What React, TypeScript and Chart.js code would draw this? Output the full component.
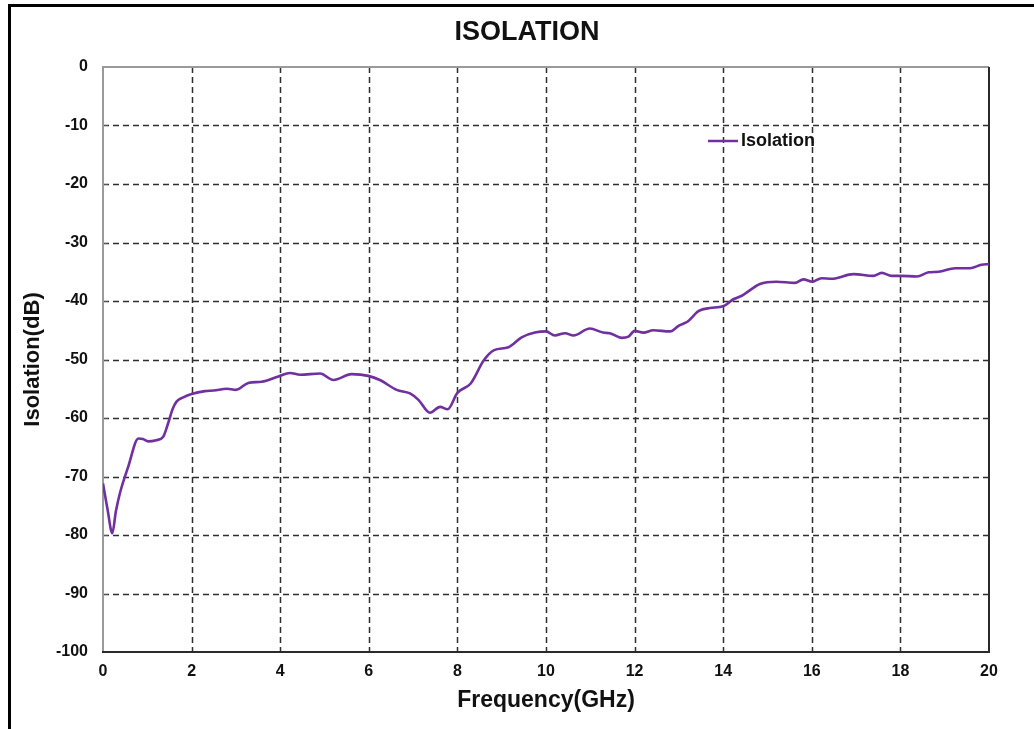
import React, { useEffect, useRef } from "react";
import { Chart, registerables } from "chart.js";

Chart.register(...registerables);

const freqGHz: number[] = [
  0, 0.1, 0.21, 0.29, 0.38, 0.57, 0.8, 0.9, 1.02, 1.2, 1.36, 1.47, 1.57, 1.66, 1.8, 2.0,
  2.3, 2.5, 2.8, 3.0, 3.28, 3.58, 3.96, 4.22, 4.45, 4.9, 5.2, 5.61, 5.99, 6.25, 6.63,
  6.93, 7.12, 7.38, 7.61, 7.78, 8.0, 8.3, 8.6, 8.83, 9.15, 9.45, 9.75, 10.0, 10.2,
  10.43, 10.62, 10.99, 11.29, 11.44, 11.71, 11.86, 12.0, 12.2, 12.42, 12.8, 13.0,
  13.2, 13.45, 13.7, 14.0, 14.23, 14.42, 14.83, 15.2, 15.62, 15.81, 16.01, 16.22,
  16.45, 16.94, 17.39, 17.58, 17.8, 18.0, 18.37, 18.64, 18.86, 19.24, 19.57, 19.83, 20,
];

const isolationDb: number[] = [
  -71.2, -75.5, -79.7, -76.0, -72.9, -68.3, -63.5, -63.6, -64.0, -63.8, -63.2, -60.9,
  -58.5, -57.2, -56.5, -55.9, -55.4, -55.3, -55.0, -55.2, -54.0, -53.8, -52.9, -52.3,
  -52.6, -52.4, -53.5, -52.5, -52.8, -53.5, -55.2, -55.8, -56.9, -59.1, -58.1, -58.5,
  -55.7, -54.1, -50.1, -48.4, -47.9, -46.2, -45.4, -45.2, -45.9, -45.5, -45.9, -44.7,
  -45.4, -45.5, -46.3, -46.1, -45.1, -45.4, -45.0, -45.2, -44.2, -43.5, -41.7, -41.2,
  -40.9, -39.7, -39.1, -37.1, -36.7, -36.9, -36.3, -36.7, -36.1, -36.2, -35.4, -35.7,
  -35.2, -35.7, -35.7, -35.8, -35.1, -35.0, -34.4, -34.4, -33.8, -33.7,
];

const chartTitle = "ISOLATION";
const seriesName = "Isolation";
const xAxisTitle = "Frequency(GHz)";
const yAxisTitle = "Isolation(dB)";
const xTicks = { min: 0, max: 20, step: 2 };
const yTicks = { min: -100, max: 0, step: 10 };

const FONT = '"Liberation Sans", Arial, Helvetica, sans-serif';
const LINE_COLOR = "#7030A0";

const decorPlugin = {
  id: "decor",
  beforeDatasetsDraw(chart: any) {
    const { ctx, chartArea, scales } = chart;
    const { left, right, top, bottom } = chartArea;
    const xs = scales.x;
    const ys = scales.y;
    ctx.save();
    // dashed grid
    ctx.strokeStyle = "#2e2e2e";
    ctx.lineWidth = 1.5;
    ctx.setLineDash([6, 4]);
    for (let v = yTicks.min + yTicks.step; v < yTicks.max; v += yTicks.step) {
      const y = Math.round(ys.getPixelForValue(v)) + 0.5;
      ctx.beginPath();
      ctx.moveTo(left, y);
      ctx.lineTo(right, y);
      ctx.stroke();
    }
    for (let v = xTicks.min + xTicks.step; v < xTicks.max; v += xTicks.step) {
      const x = Math.round(xs.getPixelForValue(v)) + 0.5;
      ctx.beginPath();
      ctx.moveTo(x, top);
      ctx.lineTo(x, bottom);
      ctx.stroke();
    }
    ctx.setLineDash([]);
    // small inward ticks on left axis
    ctx.strokeStyle = "#555";
    ctx.lineWidth = 1;
    for (let v = yTicks.min; v <= yTicks.max; v += yTicks.step) {
      const y = Math.round(ys.getPixelForValue(v)) + 0.5;
      ctx.beginPath();
      ctx.moveTo(left, y);
      ctx.lineTo(left + 5, y);
      ctx.stroke();
    }
    // plot borders
    ctx.lineWidth = 2;
    ctx.strokeStyle = "#9a9a9a";
    ctx.beginPath();
    ctx.moveTo(left, bottom);
    ctx.lineTo(left, top);
    ctx.lineTo(right, top);
    ctx.stroke();
    ctx.strokeStyle = "#2a2a2a";
    ctx.beginPath();
    ctx.moveTo(right, top);
    ctx.lineTo(right, bottom);
    ctx.lineTo(left - 1, bottom);
    ctx.stroke();
    // outer frame (left and top)
    ctx.strokeStyle = "#000";
    ctx.lineWidth = 3;
    ctx.beginPath();
    ctx.moveTo(9.5, chart.height);
    ctx.lineTo(9.5, 5.5);
    ctx.lineTo(chart.width, 5.5);
    ctx.stroke();
    // title
    ctx.fillStyle = "#111";
    ctx.font = `bold 27px ${FONT}`;
    ctx.textAlign = "center";
    ctx.textBaseline = "middle";
    ctx.fillText(chartTitle, 527, 33);
    // legend
    ctx.strokeStyle = LINE_COLOR;
    ctx.lineWidth = 2.5;
    ctx.beginPath();
    ctx.moveTo(708, 141);
    ctx.lineTo(738, 141);
    ctx.stroke();
    ctx.font = `bold 18px ${FONT}`;
    ctx.textAlign = "left";
    ctx.fillText(seriesName, 741, 141);
    ctx.restore();
  },
};

export default function App() {
  const ref = useRef<HTMLCanvasElement | null>(null);
  useEffect(() => {
    if (!ref.current) return;
    const chart = new Chart(ref.current, {
      type: "line",
      data: {
        datasets: [
          {
            label: seriesName,
            data: freqGHz.map((f, i) => ({ x: f, y: isolationDb[i] })),
            borderColor: LINE_COLOR,
            backgroundColor: LINE_COLOR,
            borderWidth: 2.6,
            pointRadius: 0,
            cubicInterpolationMode: "monotone",
            fill: false,
          },
        ],
      },
      options: {
        animation: false,
        responsive: false,
        maintainAspectRatio: false,
        layout: { padding: { top: 67, right: 45, left: 0, bottom: 0 } },
        plugins: {
          legend: { display: false },
          title: { display: false },
          tooltip: { enabled: false },
        },
        scales: {
          x: {
            type: "linear",
            min: xTicks.min,
            max: xTicks.max,
            grid: { display: false, drawTicks: false, tickLength: 0 },
            border: { display: false },
            ticks: {
              stepSize: xTicks.step,
              padding: 10,
              color: "#111",
              font: { family: FONT, size: 16, weight: "bold" },
              maxRotation: 0,
            },
            title: {
              display: true,
              text: xAxisTitle,
              color: "#111",
              font: { family: FONT, size: 23, weight: "bold" },
              padding: { top: 0, bottom: 15 },
            },
            afterFit(scale: any) {
              scale.height = 77;
            },
          },
          y: {
            type: "linear",
            min: yTicks.min,
            max: yTicks.max,
            grid: { display: false, drawTicks: false, tickLength: 0 },
            border: { display: false },
            ticks: {
              stepSize: yTicks.step,
              padding: 15,
              color: "#111",
              font: { family: FONT, size: 16, weight: "bold" },
            },
            title: {
              display: true,
              text: yAxisTitle,
              color: "#111",
              font: { family: FONT, size: 22, weight: "bold" },
              padding: { top: 20, bottom: 0 },
            },
            afterFit(scale: any) {
              scale.width = 103;
            },
          },
        },
      },
      plugins: [decorPlugin],
    } as any);
    return () => chart.destroy();
  }, []);
  return (
    <div style={{ position: "fixed", left: 0, top: 0, width: 1034, height: 729, background: "#fff" }}>
      <canvas ref={ref} width={1034} height={729} style={{ display: "block", width: 1034, height: 729 }} />
    </div>
  );
}
